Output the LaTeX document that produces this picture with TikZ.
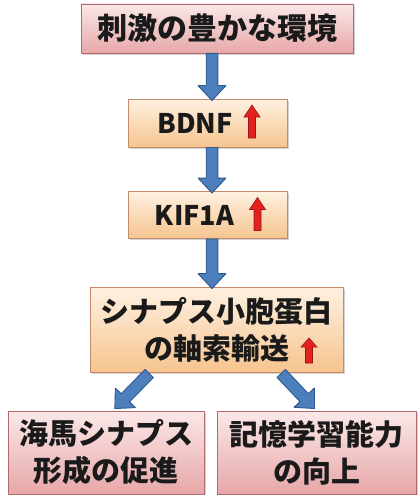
\documentclass[tikz,border=0pt]{standalone}
\usepackage{fontspec}
\setmainfont{Noto Sans CJK JP}
\usetikzlibrary{calc,shadows}
\definecolor{pinktop}{HTML}{FBE8E8}
\definecolor{pinkbot}{HTML}{E7A7A8}
\definecolor{pinkline}{HTML}{B26A6C}
\definecolor{orgtop}{HTML}{FEF1E1}
\definecolor{orgbot}{HTML}{F6C48F}
\definecolor{orgline}{HTML}{C48B6C}
\definecolor{bluefill}{HTML}{4C7FBC}
\definecolor{blueline}{HTML}{2D5A8C}
\definecolor{arrred}{HTML}{E3221F}
\definecolor{arrredd}{HTML}{9C1515}
\definecolor{txt}{HTML}{1A1A1A}
\tikzset{
  boxbase/.style={draw, line width=0.9pt, inner sep=0pt, align=center, text=txt,
    font=\fontsize{29pt}{37pt}\selectfont\bfseries,
    drop shadow={shadow xshift=1.6pt, shadow yshift=-1.6pt, opacity=0.35}},
  pinkbox/.style={boxbase, draw=pinkline, top color=pinktop, bottom color=pinkbot},
  orgbox/.style={boxbase, draw=orgline, top color=orgtop, bottom color=orgbot},
  bluearr/.style={fill=bluefill, draw=blueline, line width=0.9pt, line join=round},
  redup/.pic={\draw[fill=arrred, draw=arrredd, line width=0.6pt, line join=miter]
    (-3.5,16.5) -- (-3.5,-4.5) -- (-8,-4.5) -- (0,-16.5) -- (8,-4.5) -- (3.5,-4.5) -- (3.5,16.5) -- cycle;}
}
\newcommand\blockarr[2]{%
  \path (#1) coordinate (bs) (#2) coordinate (be);
  \coordinate (bh) at ($(be)!15pt!(bs)$);
  \draw[bluearr] ($(bs)!5.8pt!90:(be)$) -- ($(bh)!5.8pt!-90:(bs)$) -- ($(bh)!14pt!-90:(bs)$)
    -- (be) -- ($(bh)!14pt!90:(bs)$) -- ($(bh)!5.8pt!90:(bs)$) -- ($(bs)!5.8pt!-90:(be)$) -- cycle;}
\begin{document}
\begin{tikzpicture}[x=1pt,y=-1pt]
\useasboundingbox (0,0) rectangle (418,495);
\fill[white] (0,0) rectangle (418,495);
% boxes
\node[pinkbox, minimum width=272pt, minimum height=49pt, font=\fontsize{30pt}{37pt}\selectfont\bfseries] (b1) at (217,28.5) {刺激の豊かな環境};
\node[orgbox, minimum width=159pt, minimum height=48pt, font=\fontsize{27pt}{37pt}\selectfont\bfseries] (b2) at (207.5,123) {BDNF\hspace{25pt}};
\node[orgbox, minimum width=159pt, minimum height=47pt, font=\fontsize{27pt}{37pt}\selectfont\bfseries] (b3) at (207.5,215) {KIF1A\hspace{26pt}};
\node[orgbox, minimum width=253pt, minimum height=85pt] (b4) at (216.5,329.5) {シナプス小胞蛋白\\の軸索輸送\hspace{4pt}};
\node[pinkbox, minimum width=196pt, minimum height=83pt] (b5) at (106,452.5) {海馬シナプス\\形成の促進};
\node[pinkbox, minimum width=199pt, minimum height=83pt] (b6) at (316.5,452.5) {記憶学習能力\\の向上};
% red up arrows
\pic at ($(b2.center)+(44.5,-1.5)$) {redup};
\pic at ($(b3.center)+(50,-1)$) {redup};
\pic[xscale=1, yscale=0.76] at ($(b4.center)+(92.5,21)$) {redup};
% blue connectors
\coordinate (ax) at (212,0);
\blockarr{b1.south -| ax}{$(b2.north -| ax)+(0,2)$}
\blockarr{b2.south -| ax}{$(b3.north -| ax)+(0,2)$}
\blockarr{b3.south -| ax}{$(b4.north -| ax)+(0,2)$}
\blockarr{$(b4.south west)!0.235!(b4.south east)+(0,1)$}{$(b5.north west)!0.545!(b5.north east)+(0,-2)$}
\blockarr{$(b4.south west)!0.755!(b4.south east)+(0,1)$}{$(b6.north west)!0.49!(b6.north east)+(0,-2)$}
\end{tikzpicture}
\end{document}
